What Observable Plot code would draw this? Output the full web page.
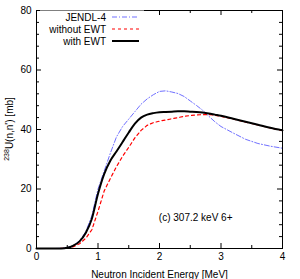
<!DOCTYPE html>
<html><head><meta charset="utf-8">
<script src="https://cdn.jsdelivr.net/npm/d3@7"></script>
<script src="https://cdn.jsdelivr.net/npm/@observablehq/plot@0.6"></script>
<style>body{margin:0;background:#fff} svg{font-family:"Liberation Sans",Arial,sans-serif}</style>
</head><body><div id="chart"></div>
<script>
const energy     = [0, 0.3, 0.4, 0.5, 0.6, 0.7, 0.8, 0.9, 1.0, 1.1, 1.2, 1.3, 1.4, 1.5, 1.6, 1.7, 1.8, 1.9, 2.0, 2.1, 2.2, 2.3, 2.4, 2.5, 2.6, 2.7, 2.8, 2.9, 3.0, 3.2, 3.4, 3.6, 3.8, 4.0];
const jendl4     = [0, 0, 0.05, 0.3, 1.0, 2.6, 5.6, 11, 20, 26, 32, 37.5, 41, 43.5, 46, 48.5, 50.3, 51.7, 52.8, 53, 52.6, 52.1, 51.1, 49.6, 48.1, 46.5, 44.5, 42.6, 41, 38.8, 36.7, 35.3, 34.4, 33.7];
const withoutEWT = [0, 0, 0.02, 0.15, 0.6, 1.6, 3.4, 6.3, 12.5, 19.3, 23.5, 27.5, 31, 34, 37.2, 39.7, 41.4, 42.3, 42.8, 43.2, 43.6, 44.0, 44.4, 44.7, 44.9, 45.0, 45.0, 44.8, 44.4, 43.5, 42.5, 41.5, 40.5, 39.6];
const withEWT    = [0, 0, 0.03, 0.25, 1.0, 2.4, 5.2, 10, 18.4, 25, 29.5, 32.6, 35.8, 39, 42, 44, 45, 45.5, 45.8, 45.9, 46.0, 46.1, 46.1, 46.0, 45.9, 45.7, 45.4, 45.0, 44.6, 43.6, 42.6, 41.6, 40.6, 39.7];

const seriesNames = ["JENDL-4", "without EWT", "with EWT"];
const xMajor = [0, 1, 2, 3, 4];
const xMinor = [0.5, 1.5, 2.5, 3.5];
const yMajor = [0, 20, 40, 60, 80];
const yMinor = [4, 8, 12, 16, 24, 28, 32, 36, 44, 48, 52, 56, 64, 68, 72, 76];
const annotation = "(c) 307.2 keV 6+";

const W = 300, H = 279, mL = 36, mR = 18, mT = 10, mB = 31;
const iW = W - mL - mR, iH = H - mT - mB;

const rows = energy.map((e, i) => ({e, jendl4: jendl4[i], without: withoutEWT[i], with: withEWT[i]}));

const styles = [
  {stroke: "#7070ff", strokeWidth: 1, strokeDasharray: "5,2,1,2"},
  {stroke: "#ff0000", strokeWidth: 1.2, strokeDasharray: "3,3"},
  {stroke: "#000000", strokeWidth: 2, strokeDasharray: null}
];

const chart = Plot.plot({
  width: W, height: H,
  marginLeft: mL, marginRight: mR, marginTop: mT, marginBottom: mB,
  style: {fontSize: "10px", fontFamily: "'Liberation Sans', Arial, sans-serif", color: "#000", background: "#fff"},
  x: {domain: [0, 4]},
  y: {domain: [0, 80]},
  marks: [
    Plot.line(rows, {x: "e", y: "jendl4", ...styles[0]}),
    Plot.line(rows, {x: "e", y: "without", ...styles[1]}),
    Plot.line(rows, {x: "e", y: "with", curve: "monotone-x", ...styles[2]}),
    // inward ticks, bottom and top
    Plot.tickX(xMajor, {x: d => d, insetTop: iH - 5, stroke: "#000"}),
    Plot.tickX(xMinor, {x: d => d, insetTop: iH - 3, stroke: "#000"}),
    Plot.tickX(xMajor, {x: d => d, insetBottom: iH - 5, stroke: "#000"}),
    Plot.tickX(xMinor, {x: d => d, insetBottom: iH - 3, stroke: "#000"}),
    // inward ticks, left and right
    Plot.tickY(yMajor, {y: d => d, insetRight: iW - 5, stroke: "#000"}),
    Plot.tickY(yMinor, {y: d => d, insetRight: iW - 3, stroke: "#000"}),
    Plot.tickY(yMajor, {y: d => d, insetLeft: iW - 5, stroke: "#000"}),
    Plot.tickY(yMinor, {y: d => d, insetLeft: iW - 3, stroke: "#000"}),
    Plot.frame({stroke: "#000"}),
    Plot.axisX(xMajor, {tickSize: 0, tickPadding: 4, fontSize: 10, label: "Neutron Incident Energy [MeV]", labelAnchor: "center", labelArrow: "none", labelOffset: 29}),
    Plot.axisY(yMajor, {tickSize: 0, tickPadding: 5, fontSize: 10, label: null}),
    Plot.text([annotation], {text: d => d, frameAnchor: "bottom-right", dx: -50, dy: -28, textAnchor: "end", fontSize: 10})
  ]
});

document.getElementById("chart").appendChild(chart);

const svg = d3.select(chart);

// y-axis label with superscript
const yl = svg.append("text")
  .attr("transform", `translate(12,${mT + iH / 2}) rotate(-90)`)
  .attr("text-anchor", "middle")
  .attr("font-size", 10)
  .attr("fill", "#000");
yl.append("tspan").attr("font-size", 7).attr("dy", "-0.45em").text("238");
yl.append("tspan").attr("dy", "0.45em").text("U(n,n') [mb]");

// legend (inside top-left, opaque key box)
const lg = svg.append("g").attr("font-size", 10).attr("fill", "#000");
lg.append("rect").attr("x", 40).attr("y", 10.5).attr("width", 104).attr("height", 36).attr("fill", "#fff");
seriesNames.forEach((name, i) => {
  const y = 17 + i * 12;
  lg.append("text").attr("x", 106).attr("y", y).attr("dy", "0.35em").attr("text-anchor", "end").text(name);
  lg.append("line").attr("x1", 112).attr("x2", 139).attr("y1", y).attr("y2", y)
    .attr("stroke", styles[i].stroke).attr("stroke-width", styles[i].strokeWidth)
    .attr("stroke-dasharray", styles[i].strokeDasharray);
});
</script>
</body></html>
